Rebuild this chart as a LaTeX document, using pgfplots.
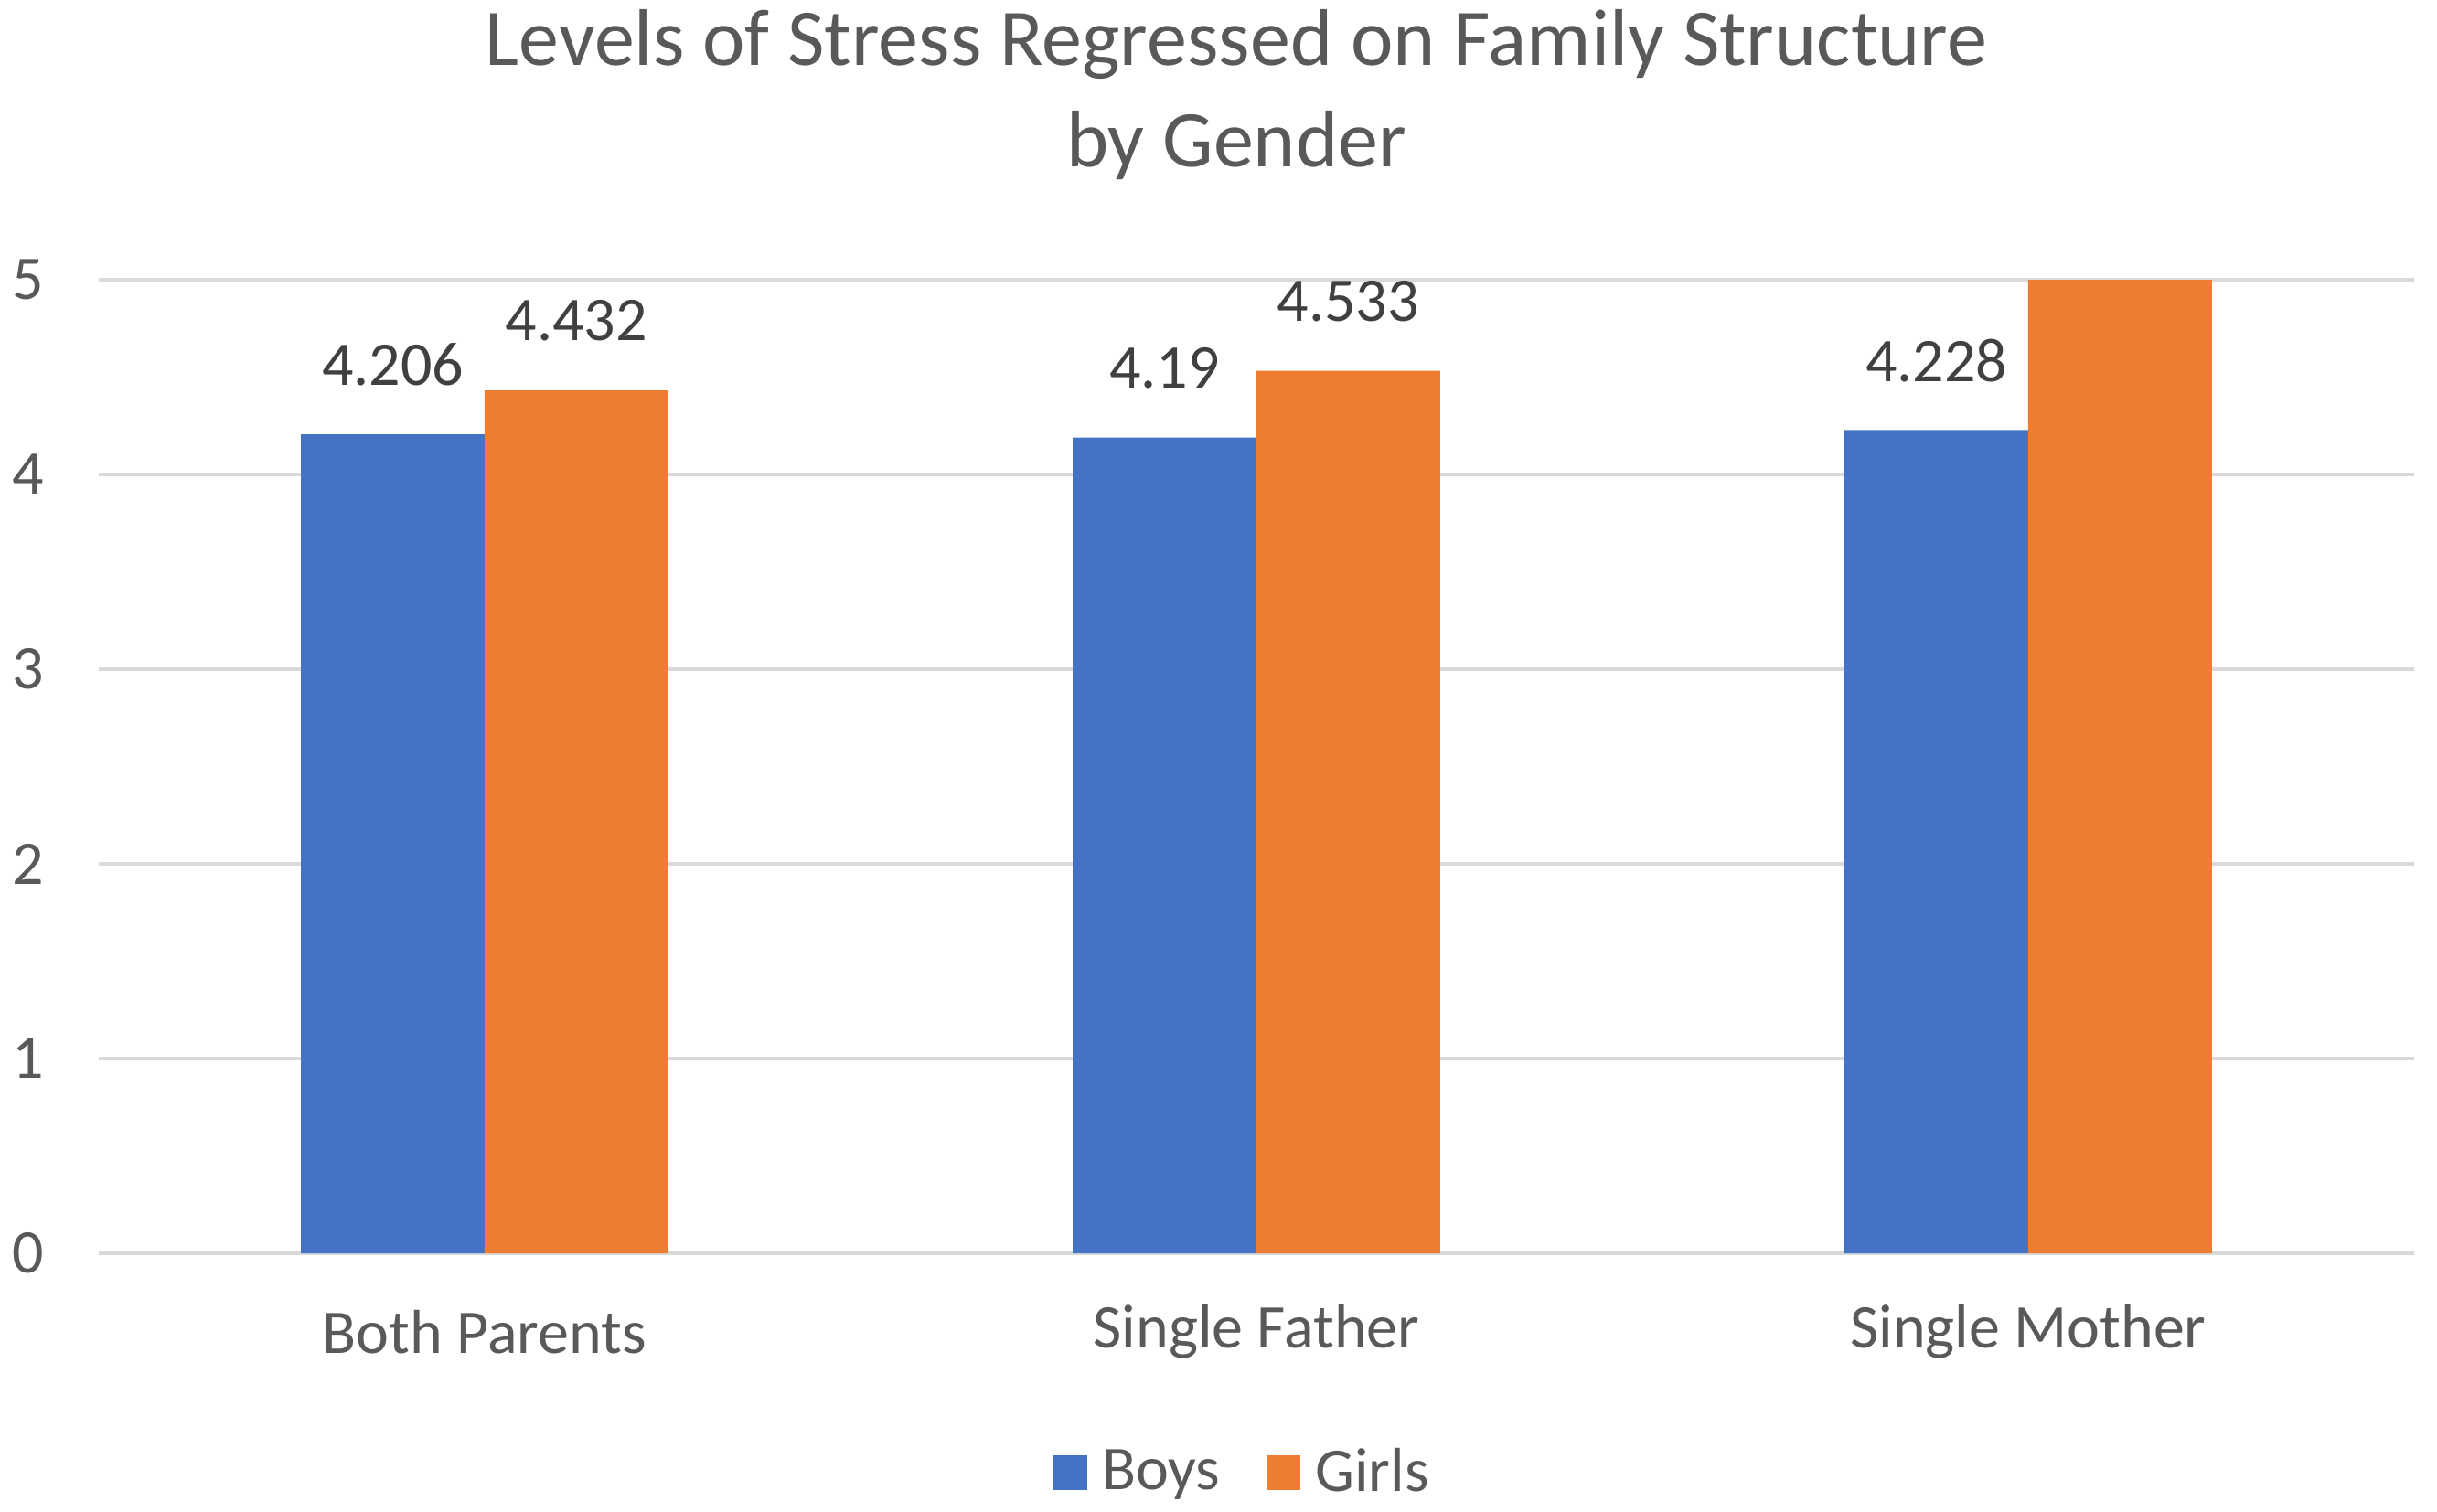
\documentclass[border=0pt]{standalone}
\usepackage{fontspec}
\setmainfont{Carlito}
\usepackage{pgfplots}
\pgfplotsset{compat=1.18}
\definecolor{boys}{HTML}{4472C4}
\definecolor{girls}{HTML}{ED7D31}
\definecolor{gridgray}{HTML}{D9D9D9}
\definecolor{txt}{HTML}{595959}
\definecolor{lbl}{HTML}{404040}
\newcommand{\lblfont}{\fontsize{17}{20}\selectfont}

\begin{document}
\begin{tikzpicture}
\path[use as bounding box] (-27pt,-70.5pt) rectangle (639.25pt,342.75pt);
\begin{axis}[
at={(0,0)}, anchor=south west,
scale only axis, width=633pt, height=266.25pt,
ybar, bar width=50.25pt,
xmin=-0.5, xmax=2.5, ymin=0, ymax=5,
xtick={0,1,2}, xticklabels={Both Parents, Single Father, Single Mother},
ytick={0,1,...,5},
ymajorgrids, major grid style={gridgray, line width=1pt},
axis line style={draw=none},
major tick length=0pt,
tick label style={font=\lblfont, text=txt},
/pgf/number format/assume math mode=true,
xticklabel style={anchor=center, yshift=-21.5pt},
yticklabel style={anchor=center, xshift=-19.25pt},
legend style={at={(0.495,-0.2254)}, anchor=center, draw=none, fill=none,
  legend columns=2, font=\lblfont, text=txt,
  /tikz/every even column/.append style={column sep=10.7pt}},
legend image code/.code={\fill[#1] (0pt,-4.65pt) rectangle (9.3pt,4.65pt); \path (11.3pt,0pt);},
nodes near coords, point meta=explicit symbolic,
nodes near coords style={anchor=center, yshift=19pt, font=\lblfont, text=lbl},
]
\addplot[fill=boys, draw=none, bar shift=-25.1pt] coordinates {(0,4.206) [4.206] (1,4.19) [4.19] (2,4.228) [4.228]};
\addplot[fill=girls, draw=none, bar shift=25.1pt] coordinates {(0,4.432) [4.432] (1,4.533) [4.533] (2,5.2) [\mbox{}]};
\legend{Boys, Girls}
\end{axis}
\node[align=center, font=\fontsize{22}{27.75}\selectfont, text=txt] at (311pt,316.9pt) {Levels of Stress Regressed on Family Structure\\by Gender};
\end{tikzpicture}
\end{document}
